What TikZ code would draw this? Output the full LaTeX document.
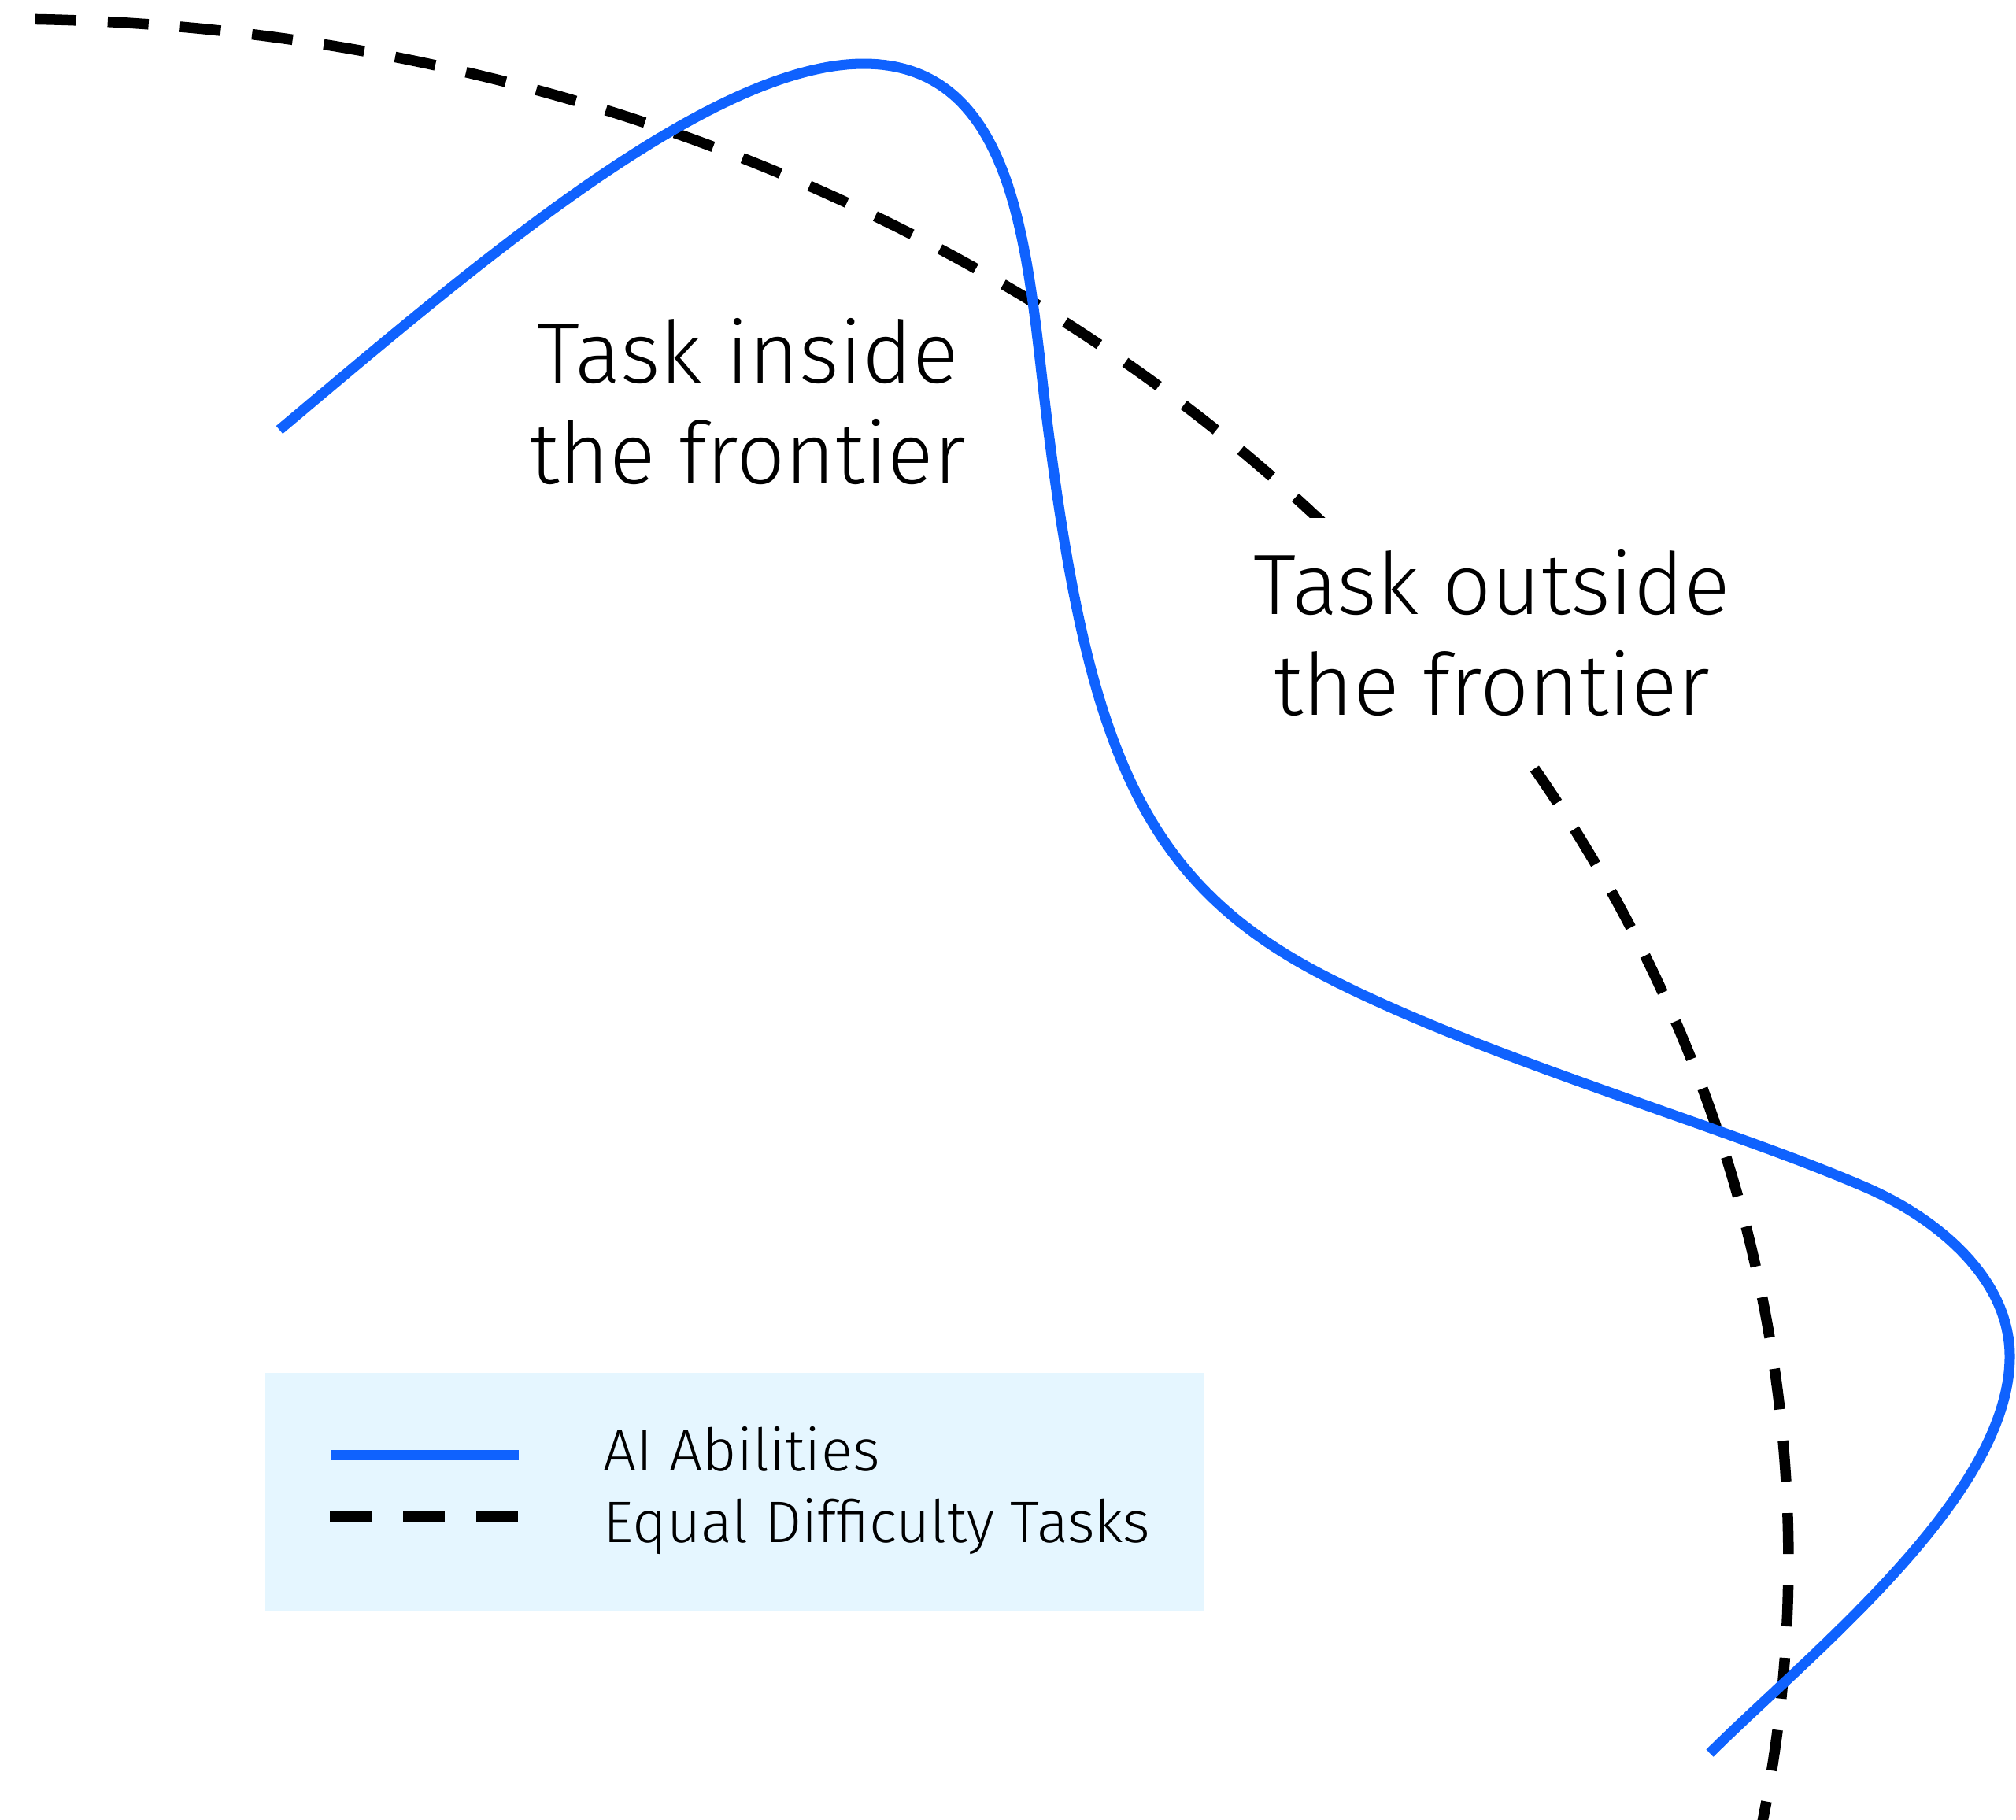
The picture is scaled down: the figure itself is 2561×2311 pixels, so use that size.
\documentclass[tikz,border=0pt]{standalone}
\usepackage{fontspec}
\setmainfont{Fira Sans Light}
\usepackage{xcolor}
\definecolor{abilityblue}{HTML}{0F62FE}
\definecolor{legendcyan}{HTML}{E5F6FF}

\begin{document}
\begin{tikzpicture}[x=0.01cm, y=-0.01cm,
  ability/.style={abilityblue, line width=0.13cm},
  frontier/.style={black, line width=0.135cm, dash pattern=on 0.52cm off 0.40cm},
  tasklabel/.style={align=center, inner sep=0, font=\fontsize{31pt}{36.4pt}\selectfont},
  legendtext/.style={anchor=base west, inner sep=0, font=\fontsize{21.2pt}{25pt}\selectfont}]
\useasboundingbox (0,0) rectangle (2561,2311);
\coordinate (o) at (0,1982);
\draw[frontier] (o) ++(-88.87:2272 and 1958) arc[start angle=-88.87, end angle=10.5, x radius=2272, y radius=1958];
\coordinate (start) at (355,546);
\coordinate (peak) at (1097,81);
\coordinate (drop) at (1330,533);
\coordinate (knee) at (1683,1240);
\coordinate (bend) at (2367,1507);
\coordinate (tip) at (2553,1723);
\coordinate (end) at (2172,2227);
\draw[ability] (start) .. controls (600,340) and (900,81) .. (peak)
  .. controls (1297,81) and (1305,333) .. (drop)
  .. controls (1382,950) and (1450,1120) .. (knee)
  .. controls (1887,1345) and (2183,1428) .. (bend)
  .. controls (2459,1546) and (2553,1623) .. (tip)
  .. controls (2553,1900) and (2300,2100) .. (end);
\node[tasklabel] (inside) at (950,510) {Task inside\\the frontier};
\node[tasklabel, fill=white, inner xsep=0.3cm, inner ysep=0.40cm] (outside) at (1895,804) {Task outside\\the frontier};
\node[fill=legendcyan, minimum width=11.92cm, minimum height=3.03cm, inner sep=0] (legend) at (933,1895.5) {};
\coordinate (ai start) at (421,1848);
\coordinate (ai end) at (659,1848);
\draw[ability] (ai start) -- (ai end);
\coordinate (eq start) at (419,1927);
\coordinate (eq end) at (658,1927);
\draw[frontier, dash pattern=on 0.53cm off 0.40cm] (eq start) -- (eq end);
\node[legendtext] (ai label) at (766,1868) {AI Abilities};
\node[legendtext] (eq label) at (766,1959) {Equal Difficulty Tasks};
\end{tikzpicture}
\end{document}
